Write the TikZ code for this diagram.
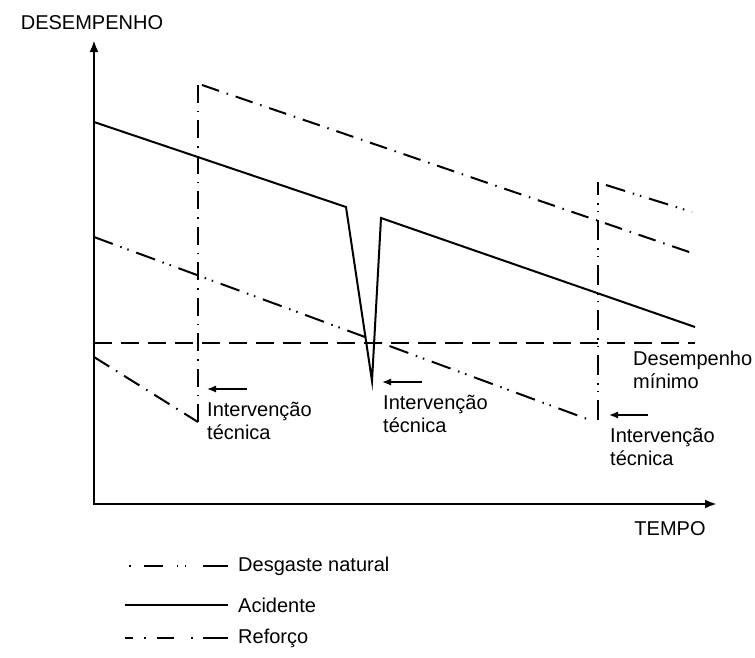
\documentclass[tikz,border=0pt]{standalone}
\usepackage{fontspec}
\setmainfont{Liberation Sans}
\usetikzlibrary{arrows.meta,positioning}

\begin{document}
\begin{tikzpicture}[x=1pt,y=-1pt,
    axis/.style={line width=2.4pt,{Latex[length=12pt,width=9pt]}-{Latex[length=12pt,width=9pt]}},
    lbl/.style={font=\fontsize{20}{23}\selectfont,inner sep=0pt,align=left},
    acid/.style={line width=2pt},
    desg/.style={line width=2pt,dash pattern=on 20pt off 8pt on 1.5pt off 6pt on 1.5pt off 8pt},
    refo/.style={line width=2pt,dash pattern=on 18pt off 8pt on 1.5pt off 8pt},
    minim/.style={line width=2pt,dash pattern=on 18pt off 9pt},
    ptr/.style={line width=1.3pt,-{Latex[length=9pt,width=7pt]}}]
    \useasboundingbox (0,0) rectangle (755,657);
    % axes
    \coordinate (O) at (94,504);
    \coordinate (ytop) at (94,40);
    \coordinate (xend) at (717,504);
    \draw[axis] (ytop) -- (O) -- (xend);
    \node[lbl,anchor=base] (ylab) at (92,29) {DESEMPENHO};
    \node[lbl,anchor=base] (xlab) at (670,535) {TEMPO};
    % minimum performance
    \coordinate (m1) at (94,343);
    \coordinate (m2) at (695,343);
    \draw[minim] (m1) -- (m2);
    \node[lbl,anchor=base west] (dmin) at (633,388) {Desempenho\\mínimo};
    % acidente
    \coordinate (a1) at (94,122);
    \coordinate (a2) at (346,207);
    \coordinate (a3) at (372,381);
    \coordinate (a4) at (381,218);
    \coordinate (a5) at (695,327);
    \draw[acid] (a1) -- (a2) -- (a3) -- (a4) -- (a5);
    % desgaste natural
    \coordinate (d1) at (94,237);
    \coordinate (d2) at (590,420);
    \coordinate (d3) at (598,420);
    \coordinate (d4) at (598,182);
    \coordinate (d5) at (606,185);
    \coordinate (d6) at (692,212);
    \draw[desg] (d1) -- (d2);
    \draw[desg] (d3) -- (d4);
    \draw[desg] (d5) -- (d6);
    % reforco
    \coordinate (r1) at (94,357);
    \coordinate (r2) at (198,422);
    \coordinate (r3) at (198,84);
    \coordinate (r4) at (202,85);
    \coordinate (r5) at (692,253);
    \draw[refo] (r1) -- (r2);
    \draw[refo] (r2) -- (r3);
    \draw[refo] (r4) -- (r5);
    % interventions
    \coordinate (p1a) at (247,389);
    \coordinate (p1b) at (207,389);
    \draw[ptr] (p1a) -- (p1b);
    \node[lbl,anchor=base west] (int1) at (207,439) {Intervenção\\técnica};
    \coordinate (p2a) at (422,382);
    \coordinate (p2b) at (382,382);
    \draw[ptr] (p2a) -- (p2b);
    \node[lbl,anchor=base west] (int2) at (383,432) {Intervenção\\técnica};
    \coordinate (p3a) at (648,415);
    \coordinate (p3b) at (609,415);
    \draw[ptr] (p3a) -- (p3b);
    \node[lbl,anchor=base west] (int3) at (610,465) {Intervenção\\técnica};
    % legend
    \coordinate (l1a) at (129,566);
    \coordinate (l1b) at (228,566);
    \draw[desg,dash pattern=on 1.5pt off 13pt on 19pt off 14pt on 1.5pt off 6.5pt on 1.5pt off 17pt on 30pt] (l1a) -- (l1b);
    \node[lbl,right=10pt of l1b] (leg1) {Desgaste natural};
    \coordinate (l2a) at (125,605);
    \coordinate (l2b) at (228,605);
    \draw[acid] (l2a) -- (l2b);
    \node[lbl,right=10pt of l2b] (leg2) {Acidente};
    \coordinate (l3a) at (125,638);
    \coordinate (l3b) at (228,638);
    \draw[refo,dash pattern=on 8pt off 11pt on 1.5pt off 11.5pt on 17pt off 17pt on 1.5pt off 10.5pt on 30pt] (l3a) -- (l3b);
    \node[lbl,right=10pt of l3b] (leg3) {Reforço};
  \end{tikzpicture}
\end{document}
